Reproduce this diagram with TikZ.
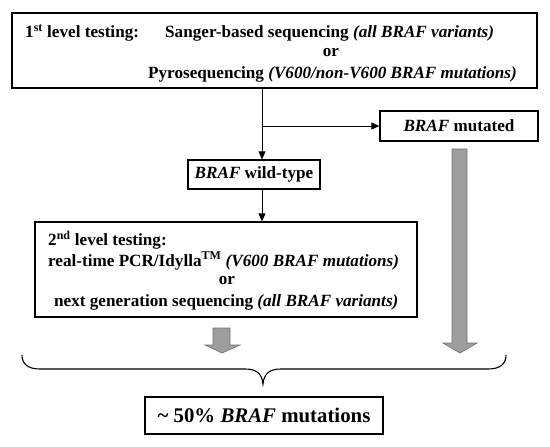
\documentclass[tikz,border=0pt]{standalone}
\usepackage{fontspec}
\setmainfont{Liberation Serif}
\usetikzlibrary{arrows.meta}
\begin{document}
\begin{tikzpicture}[x=1bp,y=-1bp,
  font=\bfseries\fontsize{17.2}{20}\selectfont,
  box/.style={draw, line width=1.3pt, inner sep=0pt},
  txt/.style={inner sep=0pt, anchor=west},
  conn/.style={line width=0.9pt, -{Triangle[length=8pt,width=7pt]}},
  garrow/.style={fill=black!38, draw=black!55, line width=0.7pt}]
\useasboundingbox (0,0) rectangle (550,447);
% top box
\node (top) [box, minimum width=525bp, minimum height=75bp] at (274.5,50.5) {};
\node (t1a) [txt] at (25,33) {1\textsuperscript{st} level testing:};
\node (t1b) [txt] at (165,33) {Sanger-based sequencing \textit{(all BRAF variants)}};
\node (t1c) [inner sep=0pt] at (331,53) {or};
\node (t1d) [txt] at (148,74) {Pyrosequencing \textit{(V600/non-V600 BRAF mutations)}};
% mutated
\node (mut) [box, minimum width=158bp, minimum height=30bp] at (459,126) {\textit{BRAF} mutated};
% wild type
\node (wt) [box, minimum width=132bp, minimum height=29bp] at (254,174.5) {\textit{BRAF} wild-type};
% second box
\node (sec) [box, minimum width=382bp, minimum height=95bp] at (226,269.5) {};
\node (s1) [txt] at (48,240) {2\textsuperscript{nd} level testing:};
\node (s2) [txt] at (48,261) {real-time PCR/Idylla\textsuperscript{TM} \textit{(V600 BRAF mutations)}};
\node (s3) [inner sep=0pt] at (227,281) {or};
\node (s4) [txt] at (54,302) {next generation sequencing \textit{(all BRAF variants)}};
% result
\node (res) [box, minimum width=238bp, minimum height=37bp, font=\bfseries\fontsize{20.9}{24}\selectfont] at (264,415.5) {\textasciitilde\ 50\% \textit{BRAF} mutations};
% connectors
\coordinate (br) at (262,126);
\draw[conn] (top.south -| br) -- (wt.north -| br);
\draw[conn] (br) -- (mut.west);
\draw[conn] (wt.south -| br) -- (sec.north -| br);
% gray arrows
\draw[garrow] (213,328) -- (230,328) -- (230,345) -- (240,345) -- (222,353) -- (205,345) -- (213,345) -- cycle;
\draw[garrow] (452,149) -- (467,149) -- (467,343) -- (477,343) -- (460,353) -- (443,343) -- (452,343) -- cycle;
% brace
\draw[line width=1.1pt] (22,355) .. controls (22,364) and (28,369) .. (40,369)
  -- (245,369) .. controls (257,369) and (262,374) .. (263,384)
  .. controls (264,374) and (269,369) .. (281,369)
  -- (488,369) .. controls (500,369) and (506,364) .. (506,355);
\end{tikzpicture}
\end{document}
